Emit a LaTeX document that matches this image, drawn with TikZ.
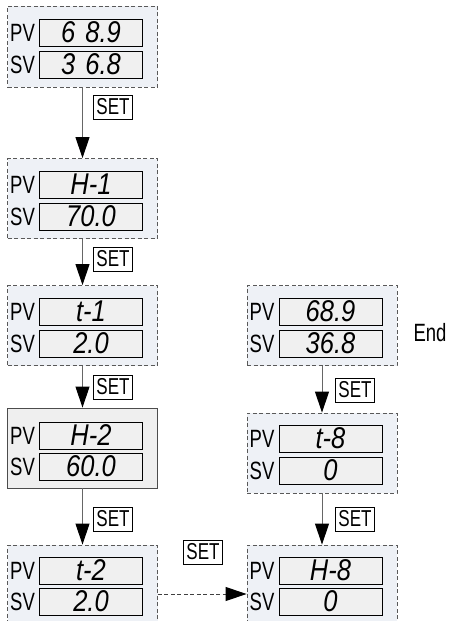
\documentclass[tikz,border=0pt]{standalone}
\usepackage{fontspec}
\setmainfont{Liberation Sans}
\newfontfamily\nsans{Liberation Sans}[FakeStretch=0.74]
\newfontfamily\lcdf{Liberation Sans}[FakeStretch=0.85]
\usetikzlibrary{arrows.meta}
\definecolor{panelbg}{HTML}{EEF1F6}
\definecolor{dispbg}{HTML}{F0F0F0}
\definecolor{solidbg}{HTML}{EFEFEF}
\begin{document}
\begin{tikzpicture}[x=1pt,y=-1pt,
  panel/.style={draw=black!65, dash pattern=on 4pt off 2.5pt, fill=panelbg,
    minimum width=150pt, minimum height=80pt, inner sep=0pt, line width=0.9pt},
  solidpanel/.style={panel, solid, fill=solidbg, draw=black!70},
  disp/.style={draw=black, line width=0.8pt, fill=dispbg, minimum width=103pt,
    minimum height=27pt, inner sep=0pt, font=\lcdf\itshape\fontsize{30}{30}\selectfont},
  lab/.style={font=\nsans\fontsize{25}{25}\selectfont, inner sep=0pt},
  setbox/.style={draw=black, line width=0.7pt, fill=white,
    font=\nsans\fontsize{23}{23}\selectfont, inner sep=0pt,
    minimum width=39pt, minimum height=24pt},
  arr/.style={draw=black!60, line width=1pt,
    -{Triangle[length=21pt,width=14pt,color=black]}},
  dasharr/.style={arr, draw=black!75, dash pattern=on 4pt off 2.5pt},
]
\useasboundingbox (0,0) rectangle (448,621);
\clip (0,0) rectangle (448,621);
\fill[white] (0,0) rectangle (448,621);

% left column panels
\node[panel] (b1) at (82.5,46.5) [minimum height=81pt] {};
\node[panel] (b2) at (82.5,198.5) {};
\node[panel] (b3) at (82.5,325.5) {};
\node[solidpanel] (b4) at (82.5,448) {};
\node[panel] (b5) at (82.5,585) {};
% right column panels
\node[panel] (r1) at (322,325.5) {};
\node[panel] (r2) at (322,453) {};
\node[panel] (r3) at (322,585) {};

% displays left
\node[disp] (b1pv) at (91,32.5) {6\,\,8.9};
\node[disp] (b1sv) at (91,64.5) {3\,\,6.8};
\node[disp] (b2pv) at (91,184.5) {H-1};
\node[disp] (b2sv) at (91,216.5) {70.0};
\node[disp] (b3pv) at (91,311.5) {t-1};
\node[disp] (b3sv) at (91,343.5) {2.0};
\node[disp] (b4pv) at (91,435.5) {H-2};
\node[disp] (b4sv) at (91,466.5) {60.0};
\node[disp] (b5pv) at (91,570.5) {t-2};
\node[disp] (b5sv) at (91,601.5) {2.0};
% displays right
\node[disp] (r1pv) at (330.5,311.5) {68.9};
\node[disp] (r1sv) at (330.5,343.5) {36.8};
\node[disp] (r2pv) at (330.5,438.5) {t-8};
\node[disp] (r2sv) at (330.5,470.5) {0};
\node[disp] (r3pv) at (330.5,570.5) {H-8};
\node[disp] (r3sv) at (330.5,601.5) {0};

% PV / SV labels
\foreach \n/\x/\y in {l1p/22.5/32.5, l2p/22.5/184.5, l3p/22.5/311.5, l4p/22.5/435.5, l5p/22.5/570.5,
                      m1p/262/311.5, m2p/262/438.5, m3p/262/570.5}
  \node[lab] (\n) at (\x,\y) {PV};
\foreach \n/\x/\y in {l1s/22.5/64.5, l2s/22.5/216.5, l3s/22.5/343.5, l4s/22.5/466.5, l5s/22.5/601.5,
                      m1s/262/343.5, m2s/262/470.5, m3s/262/601.5}
  \node[lab] (\n) at (\x,\y) {SV};

\node[lab] (end) at (430,333) {End};

% arrows
\draw[arr] (b1.south) -- (b2.north);
\draw[arr] (b2.south) -- (b3.north);
\draw[arr] (b3.south) -- (b4.north);
\draw[arr] (b4.south) -- (b5.north);
\draw[arr] (r1.south) -- (r2.north);
\draw[arr] (r2.south) -- (r3.north);
\draw[dasharr] ([yshift=-9pt]b5.east) -- ([yshift=-9pt]r3.west);

% SET labels
\node[setbox] (s1) at (113,107) {SET};
\node[setbox] (s2) at (113,259) {SET};
\node[setbox] (s3) at (113,387) {SET};
\node[setbox] (s4) at (113,519) {SET};
\node[setbox] (s5) at (203,552) {SET};
\node[setbox] (s6) at (355,390) {SET};
\node[setbox] (s7) at (355,519) {SET};
\end{tikzpicture}
\end{document}
